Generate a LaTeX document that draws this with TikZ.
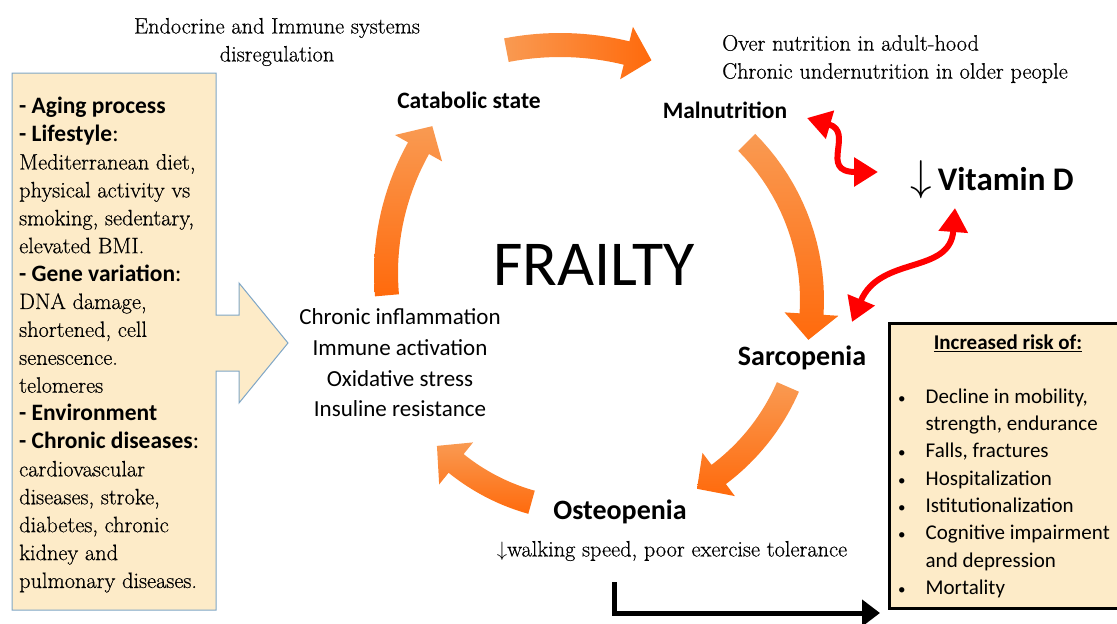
\documentclass[tikz,border=0pt]{standalone}
\usepackage{fontspec}
\usepackage{graphicx}
\usetikzlibrary{arrows.meta}
\newfontfamily\calibri{Carlito}
\newfontfamily\serifbody{Latin Modern Roman}[FakeBold=0.5]

\definecolor{boxfill}{HTML}{FDEBC8}
\definecolor{boxline}{HTML}{7FA6C6}
\definecolor{orangelight}{HTML}{F99A52}
\definecolor{orangedark}{HTML}{FF6A0C}
\definecolor{vitred}{HTML}{FF0000}

\tikzset{
	cyclelabel/.style={font=\calibri\bfseries\fontsize{23.5}{28}\selectfont},
	biglabel/.style={font=\calibri\bfseries\fontsize{28}{32}\selectfont},
	plainlabel/.style={font=\calibri\fontsize{23}{30.7}\selectfont},
	serifnote/.style={font=\serifbody\fontsize{22.3}{28}\selectfont},
	redlink/.style={vitred, line width=6pt, {Triangle[length=24pt,width=28pt]}-{Triangle[length=24pt,width=28pt]}},
	factorbox/.style={fill=boxfill, draw=boxline, line width=1pt},
	riskbox/.style={fill=boxfill, draw=black, line width=3pt}
}

% bold sans heading inside the factor box
\newcommand{\headsf}[1]{{\calibri\bfseries\fontsize{23.5}{27.9}\selectfont #1}}
% small bullet of the risk list
\newcommand{\riskdot}{{\fontsize{15}{15}\selectfont\textbullet}}

% curved arrow of the cycle: [shading] {cx}{cy}{r}{start angle}{tip angle}
\newcommand{\cyclearrow}[6][top color=orangelight, bottom color=orangedark]{%
	\pgfmathsetmacro{\arrowbase}{#6-26/#4*180/pi}
	\shade[#1]
		plot[domain=#5:\arrowbase, samples=20] ({#2+(#4+12)*cos(\x)}, {#3+(#4+12)*sin(\x)})
		-- ({#2+(#4+27)*cos(\arrowbase)}, {#3+(#4+27)*sin(\arrowbase)})
		-- ({#2+#4*cos(#6)}, {#3+#4*sin(#6)})
		-- ({#2+(#4-27)*cos(\arrowbase)}, {#3+(#4-27)*sin(\arrowbase)})
		-- plot[domain=\arrowbase:#5, samples=20] ({#2+(#4-12)*cos(\x)}, {#3+(#4-12)*sin(\x)})
		-- cycle;
}

\begin{document}
\begin{tikzpicture}[x=1pt, y=-1pt]
	\useasboundingbox (0,0) rectangle (1117,624);
	% Factor box with its arrow
	\draw[factorbox] (12,73) -- (216,73) -- (216,315) -- (239,315) -- (239,283) -- (288,343)
		-- (239,403) -- (239,371) -- (216,371) -- (216,610) -- (12,610) -- cycle;
	\node[serifnote, anchor=north west, inner sep=0, align=left, font=\serifbody\fontsize{22.3}{27.9}\selectfont] (factors) at (19,97) {%
		\headsf{- Aging process}\\
		\headsf{- Lifestyle}{\calibri\fontsize{23.5}{27.9}\selectfont :}\\
		Mediterranean diet,\\
		physical activity vs\\
		smoking, sedentary,\\
		elevated BMI.\\
		\headsf{- Gene variation}{\calibri\fontsize{23.5}{27.9}\selectfont :}\\
		DNA damage,\\
		shortened, cell\\
		senescence.\\
		telomeres\\
		\headsf{- Environment}\\
		\headsf{- Chronic diseases}{\calibri\fontsize{23.5}{27.9}\selectfont :}\\
		cardiovascular\\
		diseases, stroke,\\
		diabetes, chronic\\
		kidney and\\
		pulmonary diseases.};

	% Cycle arrows
	\cyclearrow[left color=orangelight, right color=orangedark]{560}{326}{281}{-101}{-71}
	\cyclearrow{589}{300}{223}{-45}{10.3}
	\cyclearrow{588}{300}{218}{23.5}{60}
	\cyclearrow{588}{300}{210}{105.6}{136}
	\cyclearrow{642}{273}{256}{175}{215}

	% Labels
	\node[font=\calibri\fontsize{64}{70}\selectfont] (frailty) at (594,265) {FRAILTY};
	\node[cyclelabel] (catabolic) at (469,100) {Catabolic state};
	\node[cyclelabel] (malnutrition) at (725,110) {Malnutrition};
	\node[biglabel] (sarcopenia) at (802,358) {Sarcopenia};
	\node[biglabel] (osteopenia) at (620,512) {Osteopenia};
	\node[plainlabel, align=center] (inflammation) at (400,363) {Chronic inflammation\\Immune activation\\Oxidative stress\\Insuline resistance};
	\node[serifnote, align=center] (endocrine) at (277,42) {Endocrine and Immune systems\\disregulation};
	\node[serifnote, align=left, anchor=west, inner sep=0] (nutrition) at (722,59) {Over nutrition in adult-hood\\Chronic undernutrition in older people};
	\node[serifnote] (walking) at (672,551) {$\downarrow$walking speed, poor exercise tolerance};
	\node (vitamin) at (992,180) {\scalebox{4.3}{$\downarrow$}\hspace{6pt}{\calibri\bfseries\fontsize{33}{36}\selectfont Vitamin D}};

	% Vitamin D links
	\coordinate (malnutip) at (807,118);
	\coordinate (vitatip) at (878,172);
	\coordinate (sarcotip) at (852,322);
	\coordinate (vitbtip) at (955,208);
	\draw[redlink] (malnutip) .. controls (855,132) and (818,172) .. (vitatip);
	\draw[redlink] (sarcotip) .. controls (880,255) and (950,275) .. (vitbtip);

	% Risk box
	\draw[riskbox] (889,323) rectangle (1122,608);
	\node[font=\calibri\bfseries\fontsize{21}{27}\selectfont] (risktitle) at (1008,343) {\underline{Increased risk of:}};
	\node[anchor=north west, inner sep=0, font=\calibri\fontsize{21}{27.3}\selectfont] (risklist) at (898,384) {%
		\begin{tabular}{@{}c@{\hspace{20pt}}l@{}}
			\riskdot & Decline in mobility,\\
			& strength, endurance\\
			\riskdot & Falls, fractures\\
			\riskdot & Hospitalization\\
			\riskdot & Istitutionalization\\
			\riskdot & Cognitive impairment\\
			& and depression\\
			\riskdot & Mortality
		\end{tabular}};

	% Outcome arrow
	\coordinate (elbowstart) at (614,582);
	\coordinate (elbowend) at (880,613);
	\draw[line width=5pt, -{Triangle[length=18pt,width=26pt]}] (elbowstart) |- (elbowend);
\end{tikzpicture}
\end{document}
